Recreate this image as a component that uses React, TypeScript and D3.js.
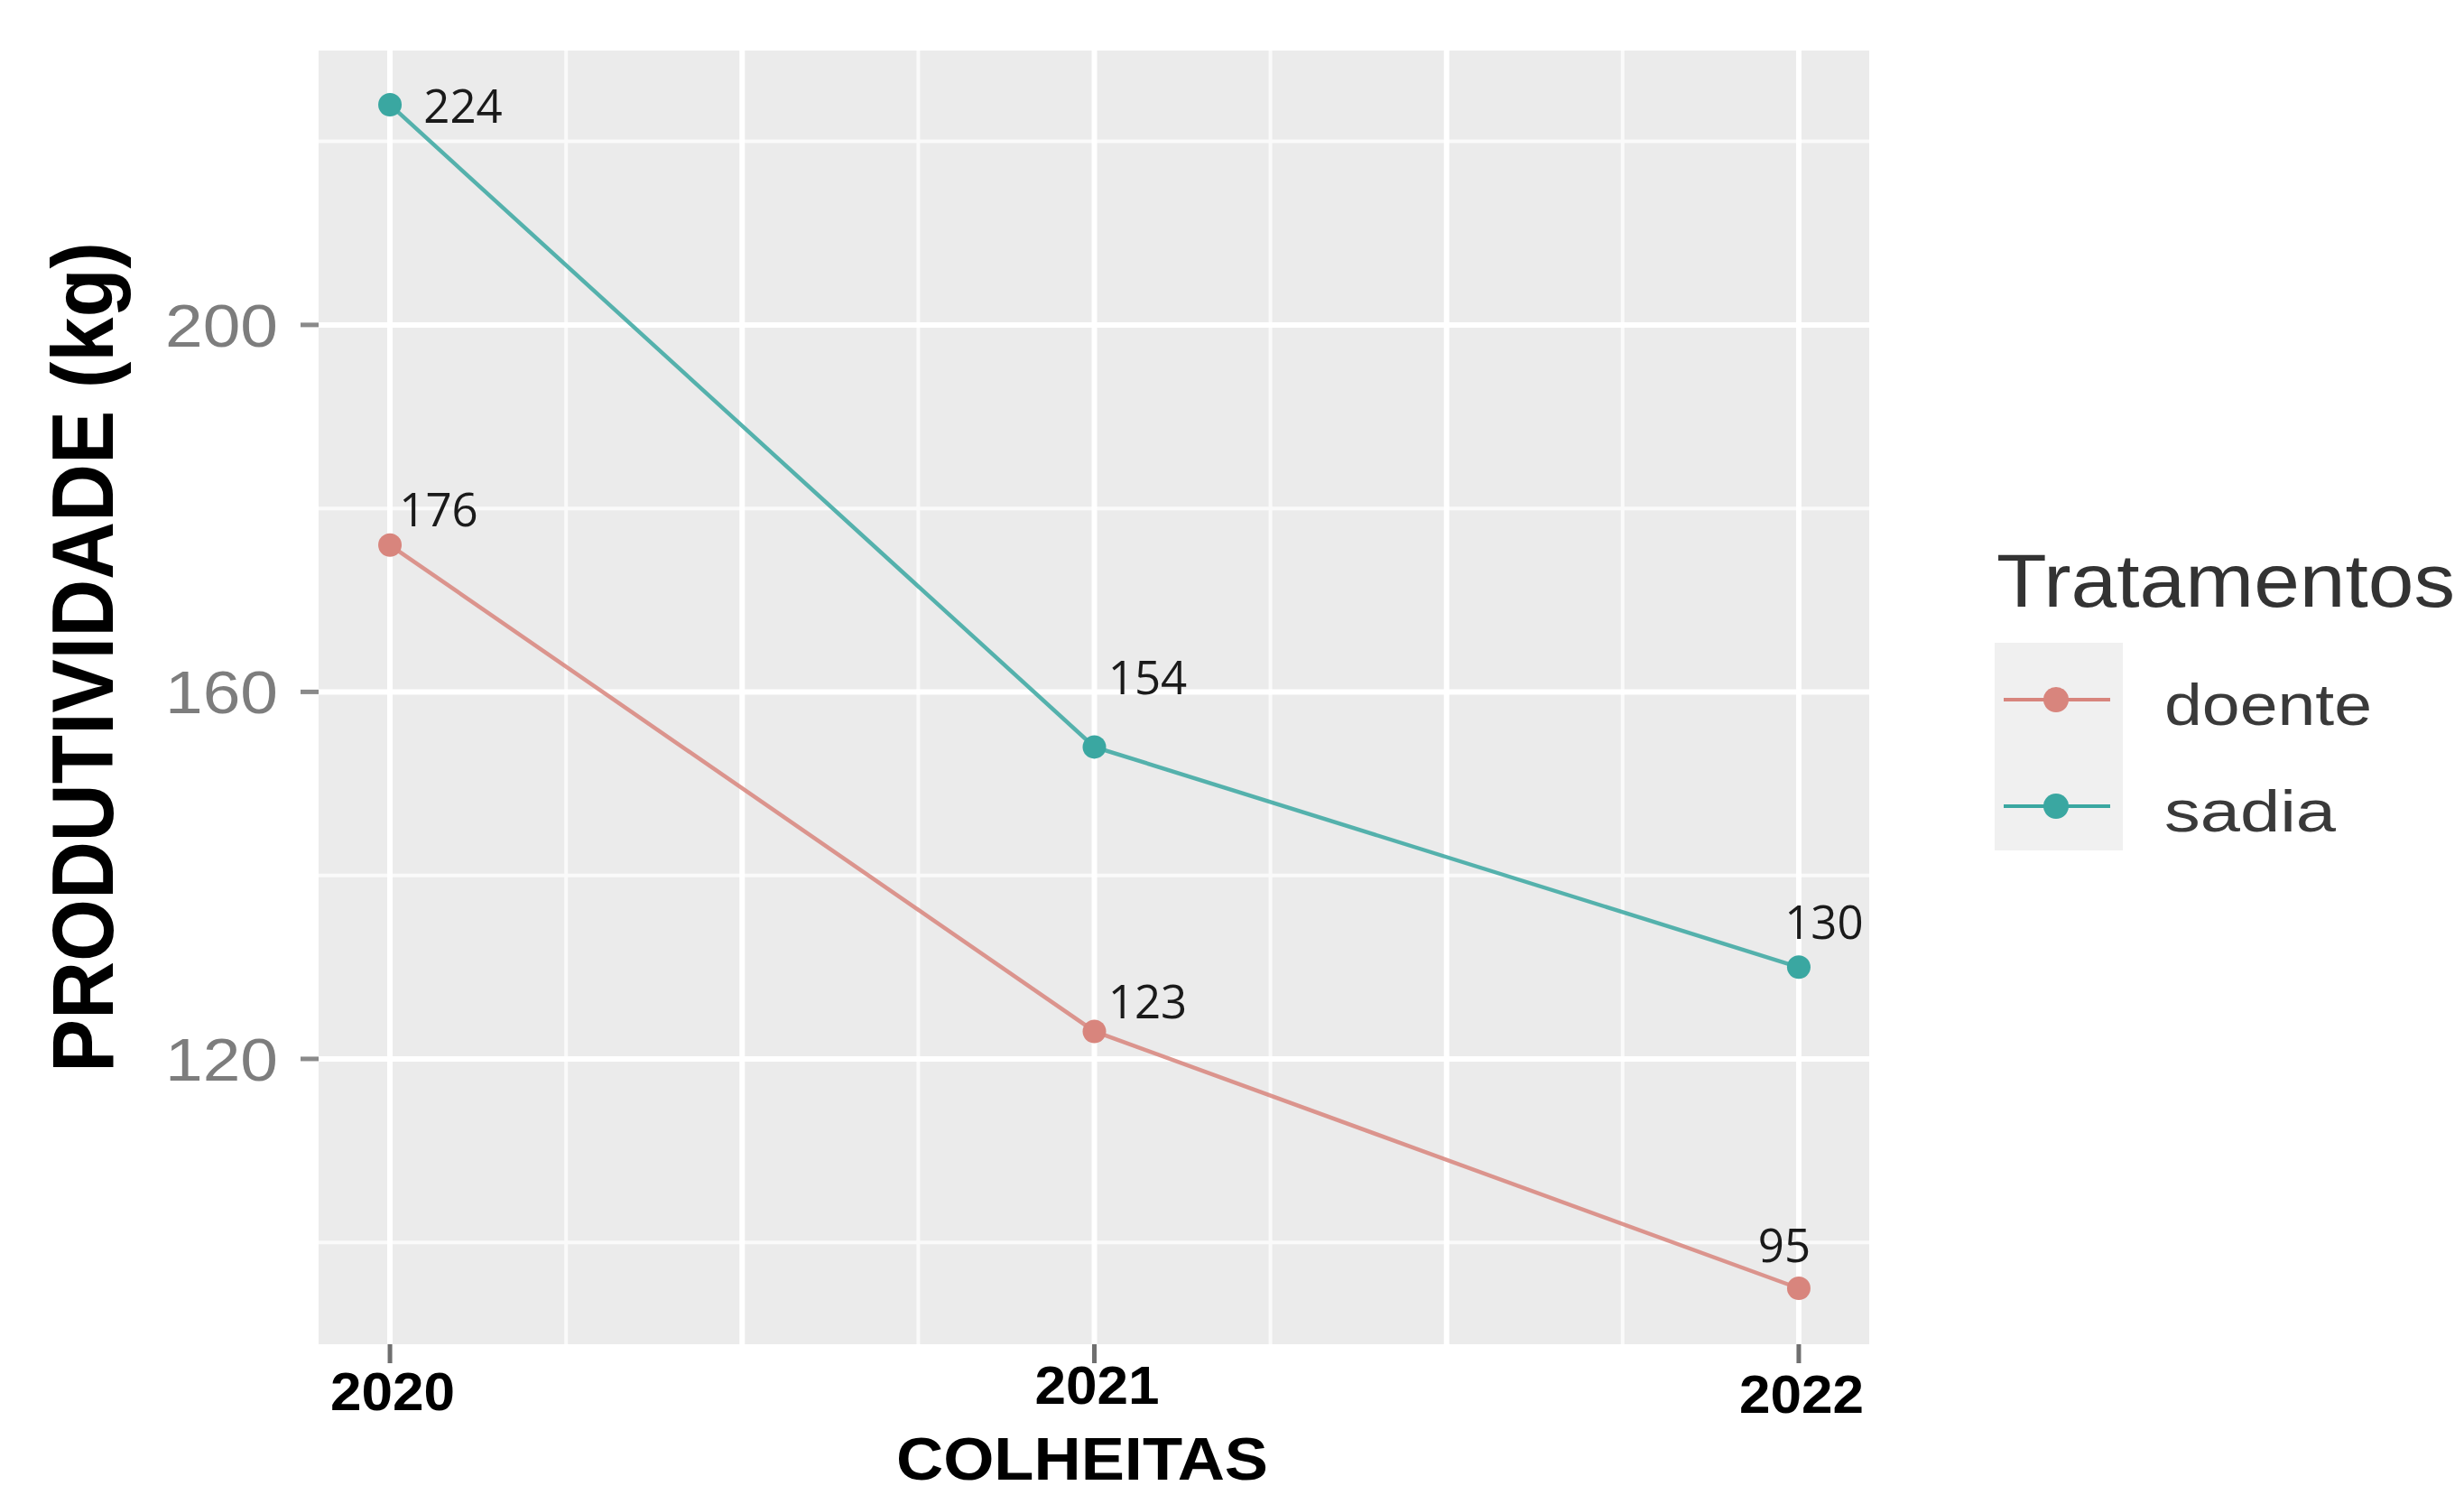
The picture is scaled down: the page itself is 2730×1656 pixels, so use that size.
import React from "react";
import * as d3 from "d3";

// ---- data ----
const years = [2020, 2021, 2022];
const doente = [176, 123, 95];
const sadia = [224, 154, 130];
const seriesNames = ["doente", "sadia"];
const seriesColors = ["#d8857d", "#3aa7a1"];
const yTicks = [120, 160, 200];
const yMinor = [100, 140, 180, 220];
const xMajorGrid = [2020, 2020.5, 2021, 2021.5, 2022];
const xMinorGrid = [2020.25, 2020.75, 2021.25, 2021.75];

// ---- layout ----
const W = 2730;
const H = 1656;
const panel = { left: 353, right: 2071, top: 56, bottom: 1489 };
// per-point label nudges (dx, dy) for [doente, sadia] × years
const labelNudge = [
  [[54, -21], [59, -14], [-16, -29]],
  [[81, 20], [59, -58], [28, -31]],
];
const xLabelNudge = [2, -5, 5];

export default function App() {
  const x = d3.scaleLinear().domain([2019.9, 2022.1]).range([354, 2071]);
  const y = d3.scaleLinear().domain([88.9, 229.9]).range([panel.bottom, panel.top]);
  const series = [doente, sadia];
  const line = d3
    .line<number>()
    .x((_, i) => x(years[i]))
    .y((v) => y(v));

  return (
    <svg width={W} height={H} style={{ position: "absolute", left: 0, top: 0, background: "#fff" }}>
      <rect x={0} y={0} width={W} height={H} fill="#ffffff" />
      {/* panel */}
      <rect
        x={panel.left}
        y={panel.top}
        width={panel.right - panel.left}
        height={panel.bottom - panel.top}
        fill="#ebebeb"
      />
      {/* minor grid */}
      {yMinor.map((v) => (
        <line key={"ym" + v} x1={panel.left} x2={panel.right} y1={y(v)} y2={y(v)} stroke="#fafafa" strokeWidth={4} />
      ))}
      {xMinorGrid.map((v) => (
        <line key={"xm" + v} x1={x(v)} x2={x(v)} y1={panel.top} y2={panel.bottom} stroke="#fafafa" strokeWidth={4} />
      ))}
      {/* major grid */}
      {yTicks.map((v) => (
        <line key={"yM" + v} x1={panel.left} x2={panel.right} y1={y(v)} y2={y(v)} stroke="#ffffff" strokeWidth={6} />
      ))}
      {xMajorGrid.map((v) => (
        <line key={"xM" + v} x1={x(v)} x2={x(v)} y1={panel.top} y2={panel.bottom} stroke="#ffffff" strokeWidth={6} />
      ))}

      {/* lines */}
      {series.map((s, si) => (
        <path key={"l" + si} d={line(s) || ""} fill="none" stroke={seriesColors[si]} strokeWidth={4.5} strokeOpacity={0.85} />
      ))}
      {/* points */}
      {series.map((s, si) =>
        s.map((v, i) => (
          <circle key={"p" + si + i} cx={x(years[i])} cy={y(v)} r={13} fill={seriesColors[si]} />
        ))
      )}
      {/* data labels */}
      {series.map((s, si) =>
        s.map((v, i) => (
          <text
            key={"t" + si + i}
            x={x(years[i]) + labelNudge[si][i][0]}
            y={y(v) + labelNudge[si][i][1]}
            textAnchor="middle"
            fontFamily="'Open Sans', sans-serif"
            fontSize={51}
            fill="#1a1a1a"
          >
            {v}
          </text>
        ))
      )}

      {/* y axis ticks + labels */}
      {yTicks.map((v) => (
        <g key={"yt" + v}>
          <line x1={panel.left - 20} x2={panel.left} y1={y(v)} y2={y(v)} stroke="#8a8a8a" strokeWidth={5} />
          <text
            x={308}
            y={y(v) + 24}
            textAnchor="end"
            fontFamily="'Liberation Sans', Arial, sans-serif"
            fontSize={66}
            fill="#7d7d7d"
            textLength={125}
            lengthAdjust="spacingAndGlyphs"
          >
            {v}
          </text>
        </g>
      ))}

      {/* x axis ticks + labels */}
      {years.map((yr, i) => (
        <g key={"xt" + yr}>
          <line x1={x(yr)} x2={x(yr)} y1={panel.bottom} y2={panel.bottom + 21} stroke="#6f6f6f" strokeWidth={5} />
          <text
            x={x(yr) + 3}
            y={1560 + xLabelNudge[i]}
            textAnchor="middle"
            fontFamily="'Liberation Sans', Arial, sans-serif"
            fontWeight="bold"
            fontSize={59}
            fill="#000"
            textLength={138}
            lengthAdjust="spacingAndGlyphs"
          >
            {yr}
          </text>
        </g>
      ))}

      {/* axis titles */}
      <text
        x={1199}
        y={1639}
        textAnchor="middle"
        fontFamily="'Liberation Sans', Arial, sans-serif"
        fontWeight="bold"
        fontSize={66}
        fill="#000"
        textLength={412}
        lengthAdjust="spacingAndGlyphs"
      >
        COLHEITAS
      </text>
      <text
        transform="translate(125,728) rotate(-90)"
        textAnchor="middle"
        fontFamily="'Liberation Sans', Arial, sans-serif"
        fontWeight="bold"
        fontSize={96}
        fill="#000"
        textLength={920}
        lengthAdjust="spacingAndGlyphs"
      >
        PRODUTIVIDADE (kg)
      </text>

      {/* legend */}
      <text
        x={2212}
        y={672}
        fontFamily="'Liberation Sans', Arial, sans-serif"
        fontSize={84}
        fill="#333"
        textLength={508}
        lengthAdjust="spacingAndGlyphs"
      >
        Tratamentos
      </text>
      <rect x={2210} y={712} width={142} height={230} fill="#ebebeb" opacity={0.75} />
      {seriesNames.map((name, i) => {
        const cy = 775 + i * 118;
        return (
          <g key={"lg" + name}>
            <line x1={2220} x2={2338} y1={cy} y2={cy} stroke={seriesColors[i]} strokeWidth={4} />
            <circle cx={2278} cy={cy} r={14} fill={seriesColors[i]} />
            <text
              x={2398}
              y={cy + 28}
              fontFamily="'Liberation Sans', Arial, sans-serif"
              fontSize={64}
              fill="#3a3a3a"
              textLength={i === 0 ? 230 : 190}
              lengthAdjust="spacingAndGlyphs"
            >
              {name}
            </text>
          </g>
        );
      })}
    </svg>
  );
}
